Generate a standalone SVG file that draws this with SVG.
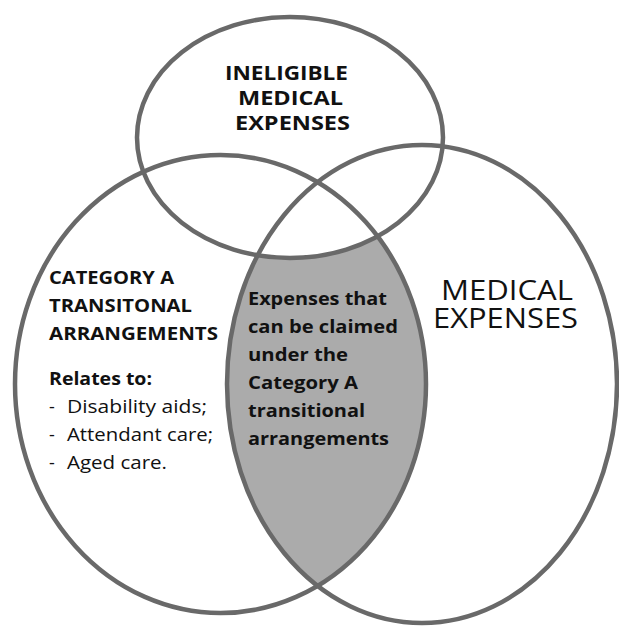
<svg xmlns="http://www.w3.org/2000/svg" width="619" height="627" viewBox="0 0 619 627">
<defs>
<style>
.ring{fill:none;stroke:#696969;stroke-width:4.5}
.t{font-family:"Open Sans","Liberation Sans",sans-serif;fill:#111}
.b{font-weight:bold}
.s18{font-size:18px}
.s20{font-size:20px}
.s27{font-size:27px}
</style>
<clipPath id="clipRight"><ellipse cx="422" cy="384" rx="195" ry="239"/></clipPath>
</defs>
<rect x="0" y="0" width="619" height="627" fill="#ffffff"/>
<g id="overlap">
<ellipse cx="220.5" cy="384" rx="205.5" ry="229" fill="#ababab" clip-path="url(#clipRight)"/>
<ellipse cx="290" cy="137.5" rx="153" ry="120.5" fill="#ffffff"/>
</g>
<g id="node-ineligible">
<ellipse class="ring" cx="290" cy="137.5" rx="153" ry="120.5"/>
<text class="t b s20" x="225" y="80" textLength="123" lengthAdjust="spacingAndGlyphs">INELIGIBLE</text>
<text class="t b s20" x="238" y="105" textLength="105" lengthAdjust="spacingAndGlyphs">MEDICAL</text>
<text class="t b s20" x="235" y="130" textLength="115" lengthAdjust="spacingAndGlyphs">EXPENSES</text>
</g>
<g id="node-category-a">
<ellipse class="ring" cx="220.5" cy="384" rx="205.5" ry="229"/>
<text class="t b s18" x="49" y="284" textLength="125" lengthAdjust="spacingAndGlyphs">CATEGORY A</text>
<text class="t b s18" x="49" y="312" textLength="143" lengthAdjust="spacingAndGlyphs">TRANSITONAL</text>
<text class="t b s18" x="49" y="340" textLength="169" lengthAdjust="spacingAndGlyphs">ARRANGEMENTS</text>
<text class="t b s18" x="49" y="385" textLength="103" lengthAdjust="spacingAndGlyphs">Relates to:</text>
<text class="t s18" x="49" y="413">-</text>
<text class="t s18" x="67" y="413" textLength="140" lengthAdjust="spacingAndGlyphs">Disability aids;</text>
<text class="t s18" x="49" y="441">-</text>
<text class="t s18" x="67" y="441" textLength="146" lengthAdjust="spacingAndGlyphs">Attendant care;</text>
<text class="t s18" x="49" y="469">-</text>
<text class="t s18" x="67" y="469" textLength="100" lengthAdjust="spacingAndGlyphs">Aged care.</text>
</g>
<g id="node-medical">
<ellipse class="ring" cx="422" cy="384" rx="195" ry="239"/>
<text class="t s27" x="441" y="300" textLength="132" lengthAdjust="spacingAndGlyphs">MEDICAL</text>
<text class="t s27" x="433" y="328" textLength="145" lengthAdjust="spacingAndGlyphs">EXPENSES</text>
</g>
<g id="node-claimable">
<text class="t b s18" x="248" y="305" textLength="139" lengthAdjust="spacingAndGlyphs">Expenses that</text>
<text class="t b s18" x="248" y="333" textLength="150" lengthAdjust="spacingAndGlyphs">can be claimed</text>
<text class="t b s18" x="248" y="361" textLength="100" lengthAdjust="spacingAndGlyphs">under the</text>
<text class="t b s18" x="248" y="389" textLength="110" lengthAdjust="spacingAndGlyphs">Category A</text>
<text class="t b s18" x="248" y="417" textLength="117" lengthAdjust="spacingAndGlyphs">transitional</text>
<text class="t b s18" x="248" y="445" textLength="141" lengthAdjust="spacingAndGlyphs">arrangements</text>
</g>
<g id="connectors"></g>
</svg>
